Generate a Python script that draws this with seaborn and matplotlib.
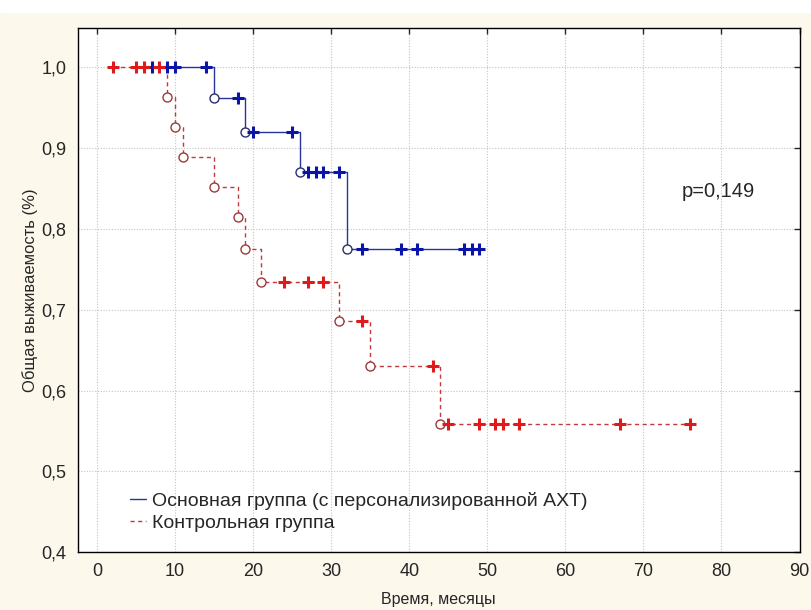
import numpy as np
import pandas as pd
import matplotlib.pyplot as plt
import seaborn as sns
from matplotlib.patches import Rectangle

# Kaplan-Meier curves
# main group (personalised AChT)
main_start = 7
main_end = 49
main_event_t = [15, 19, 26, 32]
main_event_s = [0.962, 0.920, 0.870, 0.775]
main_censor_t = [7, 9, 10, 14, 18, 20, 25, 27, 28, 29, 31, 34, 39, 41, 47, 48, 49]

# control group
ctrl_start = 2
ctrl_end = 76
ctrl_event_t = [9, 10, 11, 15, 18, 19, 21, 31, 35, 44]
ctrl_event_s = [0.963, 0.926, 0.889, 0.852, 0.815, 0.775, 0.735, 0.686, 0.630, 0.559]
ctrl_censor_t = [2, 5, 6, 8, 24, 27, 29, 34, 43, 45, 49, 51, 52, 54, 67, 76]

labels = ["Основная группа (с персонализированной АХТ)", "Контрольная группа"]
x_ticks = [0, 10, 20, 30, 40, 50, 60, 70, 80, 90]
y_ticks = [0.4, 0.5, 0.6, 0.7, 0.8, 0.9, 1.0]
y_tick_labels = ["0,4", "0,5", "0,6", "0,7", "0,8", "0,9", "1,0"]
p_text = "p=0,149"


def km_frame(start, end, ev_t, ev_s):
    t = [start] + list(ev_t) + [end]
    s = [1.0] + list(ev_s) + [ev_s[-1]]
    return pd.DataFrame({"t": t, "s": s})


def surv_at(times, ev_t, ev_s):
    out = []
    for x in times:
        v = 1.0
        for et, es in zip(ev_t, ev_s):
            if x >= et:
                v = es
        out.append(v)
    return out


sns.set_style("white")
plt.rcParams["font.family"] = ["Liberation Sans", "DejaVu Sans"]

fig = plt.figure(figsize=(8.11, 6.10), dpi=100, facecolor="#fdf8ec")
fig.add_artist(Rectangle((0, 1 - 12 / 610), 1, 12 / 610, transform=fig.transFigure,
                         color="white", zorder=0))
ax = fig.add_axes([77.5 / 811, 1 - 552.3 / 610, 722 / 811, 524.6 / 610])
ax.set_facecolor("white")

blue_line, blue_mark = "#27349a", "#0a14a8"
red_line, red_mark = "#c0393b", "#e01a1a"

groups = [
    (main_start, main_end, main_event_t, main_event_s, main_censor_t,
     blue_line, blue_mark, "-", "#2a2f6a"),
    (ctrl_start, ctrl_end, ctrl_event_t, ctrl_event_s, ctrl_censor_t,
     red_line, red_mark, (0, (3, 2.5)), "#9a3a3a"),
]

for lab, (st, en, et, es, ct, lc, mc, ls, cc) in zip(labels, groups):
    df = km_frame(st, en, et, es)
    sns.lineplot(data=df, x="t", y="s", ax=ax, color=lc, linestyle=ls, linewidth=1.0,
                 drawstyle="steps-post", estimator=None, sort=False, label=lab, zorder=3)
    cens = pd.DataFrame({"t": ct, "s": surv_at(ct, et, es)})
    sns.scatterplot(data=cens, x="t", y="s", ax=ax, marker="+", color=mc, s=70,
                    linewidth=2.2, zorder=5, legend=False)
    evs = pd.DataFrame({"t": et, "s": es})
    sns.scatterplot(data=evs, x="t", y="s", ax=ax, marker="o", facecolor="white",
                    edgecolor=cc, s=42, linewidth=1.0, zorder=4, legend=False)

ax.set_xlim(-2.5, 90)
ax.set_ylim(0.4, 1.049)
ax.set_xticks(x_ticks)
ax.set_yticks(y_ticks)
ax.set_yticklabels(y_tick_labels)
ax.tick_params(axis="both", labelsize=13, direction="in", length=4, width=1,
               top=True, right=True, pad=8)
ax.grid(True, linestyle=(0, (1, 1.5)), color="#c4c4c4", linewidth=0.8)
for sp in ax.spines.values():
    sp.set_color("black")
    sp.set_linewidth(1.0)

ax.set_xlabel("Время, месяцы", fontsize=11.5, labelpad=8)
ax.set_ylabel("Общая выживаемость (%)", fontsize=12, labelpad=2)

ax.text(79.6, 0.846, p_text, fontsize=14.5, ha="center", va="center")

leg = ax.legend(loc="lower left", bbox_to_anchor=(0.048, 0.006), frameon=False,
                fontsize=14, handlelength=0.85, handletextpad=0.3, labelspacing=0.2)

fig.savefig("out.png", dpi=100, facecolor=fig.get_facecolor())
